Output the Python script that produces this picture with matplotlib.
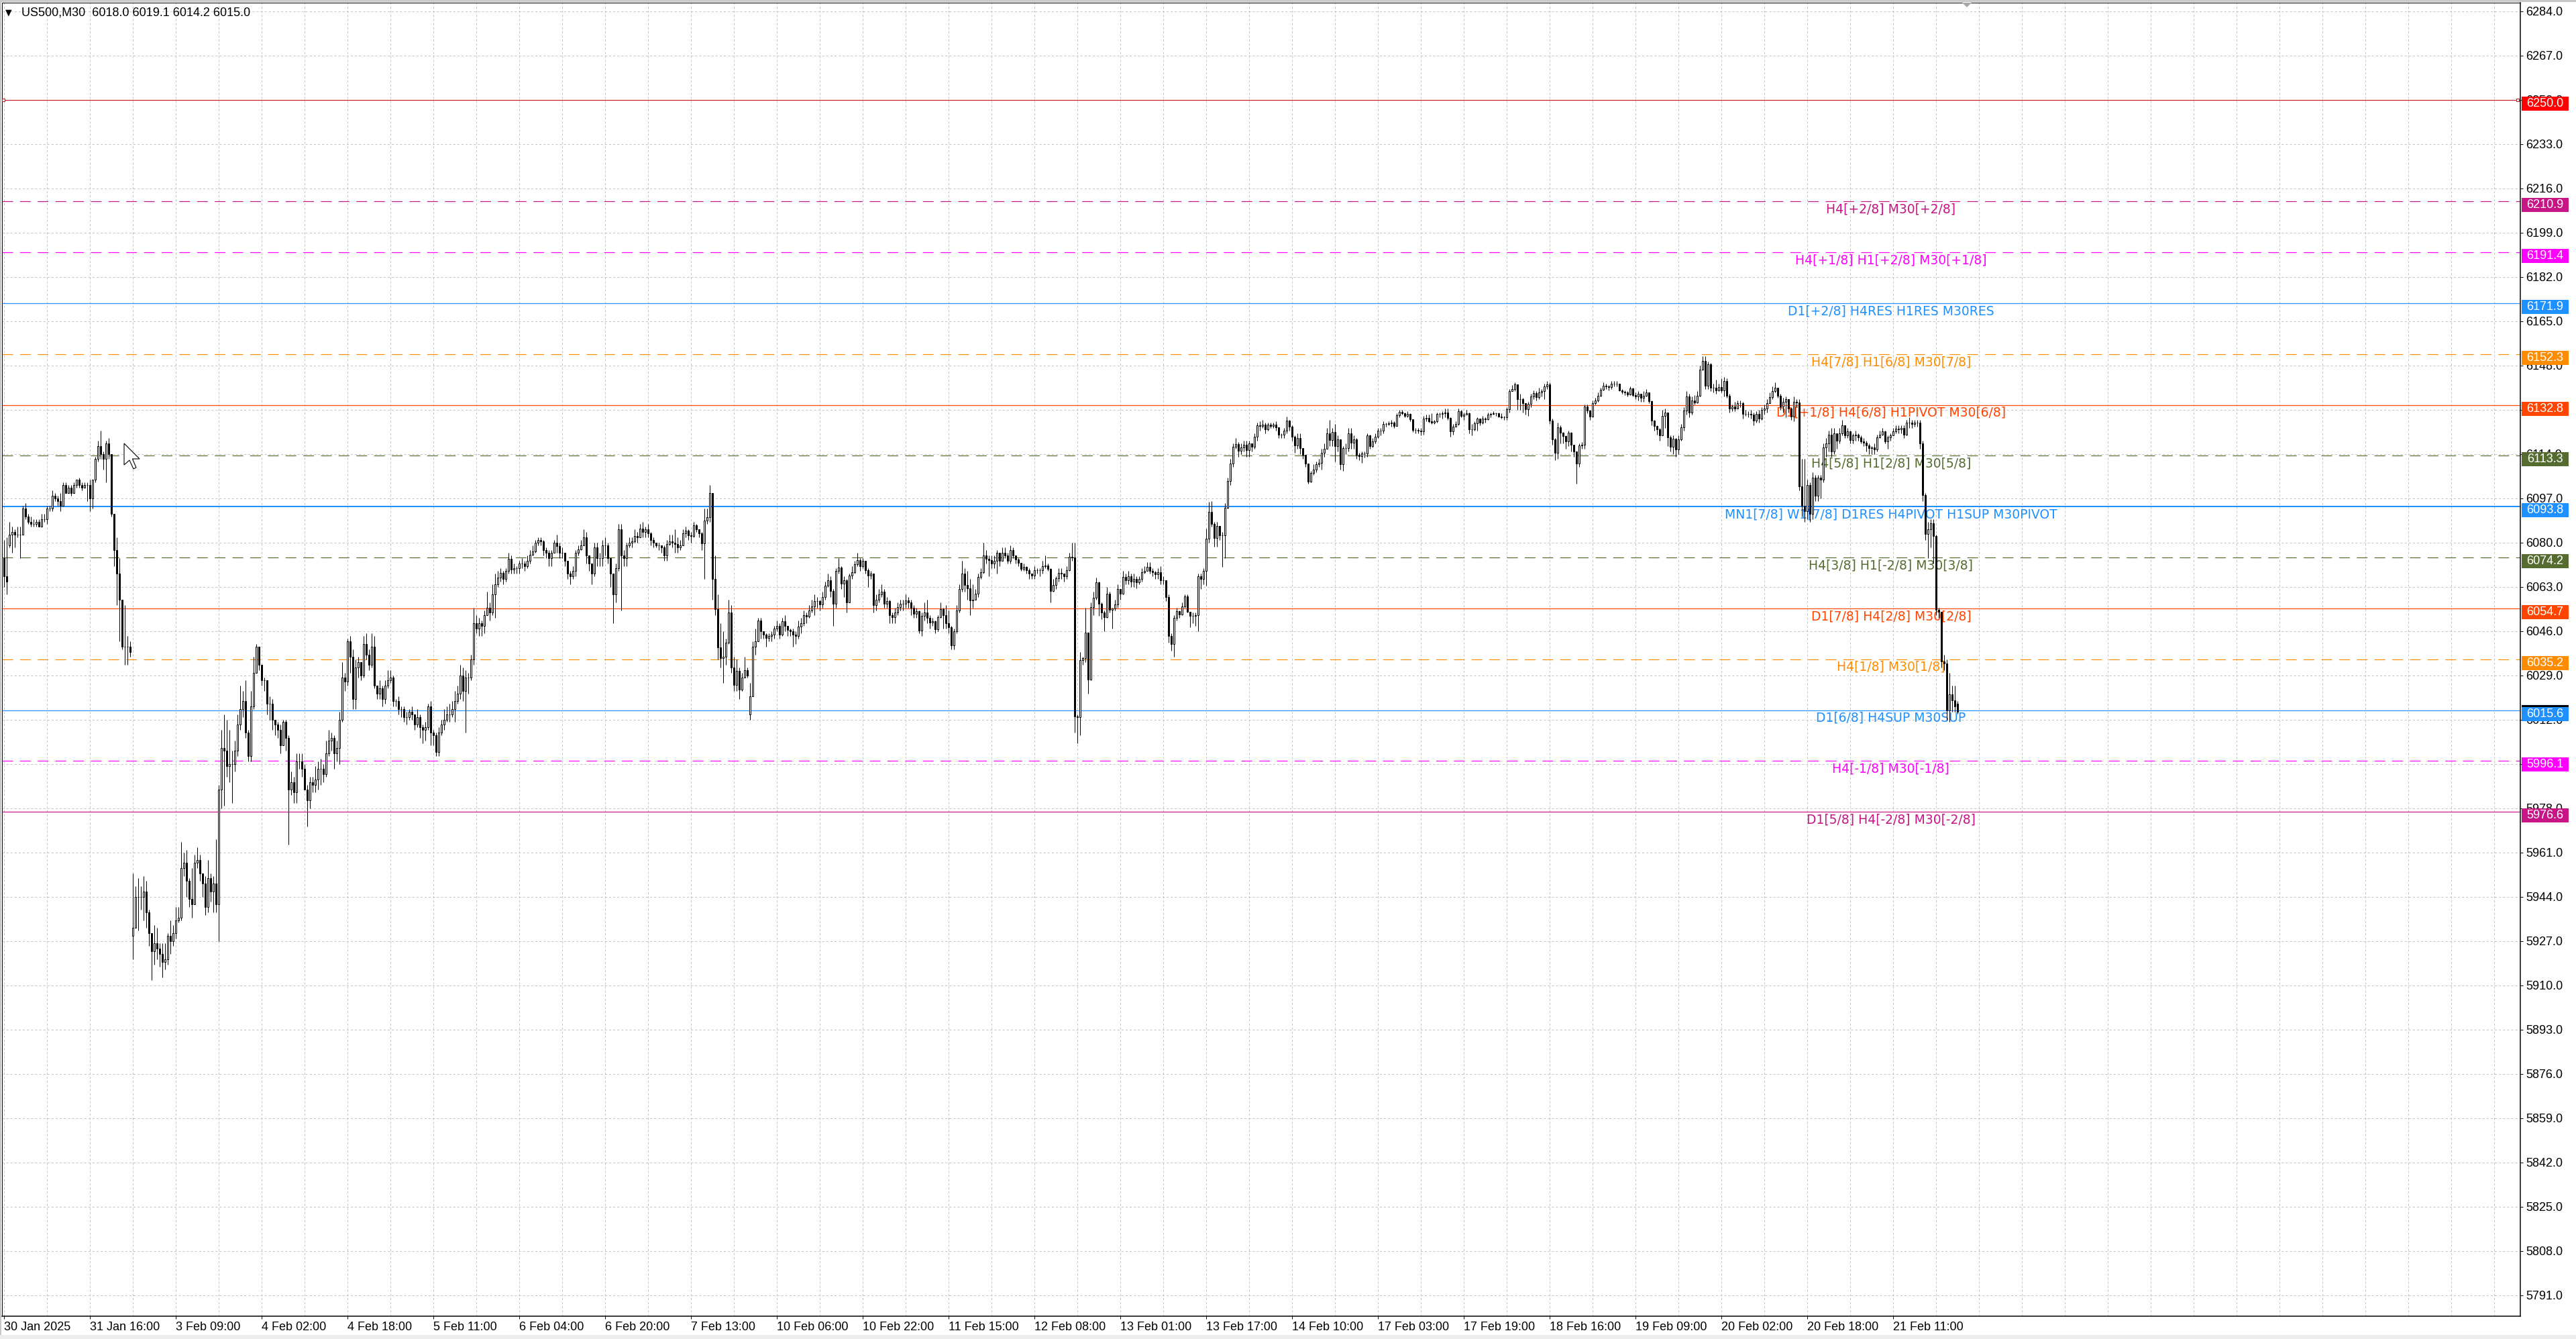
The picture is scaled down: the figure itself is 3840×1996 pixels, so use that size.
import matplotlib
matplotlib.use("Agg")
import matplotlib.pyplot as plt
from matplotlib.patches import Rectangle, Polygon
import numpy as np

plt.rcParams['lines.scale_dashes'] = False

# ---------------- data ----------------
SYMBOL_TEXT = "US500,M30  6018.0 6019.1 6014.2 6015.0"

CLOSE = [
6067, 6065, 6083, 6084, 6083, 6083, 6083, 6093, 6090, 6088,
6087, 6087, 6088, 6086, 6089, 6089, 6093, 6093, 6098, 6097,
6096, 6094, 6102, 6099, 6101, 6099, 6102, 6104, 6102, 6101,
6102, 6102, 6097, 6104, 6112, 6117, 6114, 6112, 6118, 6114,
6091, 6077, 6068, 6058, 6040, 6040, 6040, 6038,
5932, 5944, 5944, 5944, 5946, 5938, 5930, 5923, 5926, 5924,
5922, 5919, 5920, 5929, 5927, 5930, 5935, 5936, 5955, 5957,
5950, 5943, 5941, 5957, 5958, 5953, 5949, 5940, 5951, 5946,
5949, 5941, 5985, 6001, 6000, 5994, 5995, 5995, 6000, 6010,
6016, 6019, 6007, 5998, 6017, 6030, 6040, 6033, 6027, 6027,
6018, 6018, 6012, 6010, 6008, 6002, 6011, 6005, 5985, 5988,
5984, 5996, 5996, 5993, 5985, 5981, 5988, 5987, 5989, 5993,
5993, 5991, 5999, 6004, 6005, 5999,
6001, 6012, 6028, 6026.5, 6042, 6036, 6020, 6032, 6034, 6029,
6041, 6037, 6033, 6040, 6025, 6022, 6024, 6020, 6025, 6027,
6028, 6019, 6019, 6016, 6016, 6013, 6013, 6015, 6014, 6010,
6013, 6009, 6008, 6009, 6017, 6007, 6006, 5999.5, 6007, 6010,
6012, 6014, 6014, 6016, 6019, 6022, 6029, 6023, 6028, 6028,
6035, 6049, 6047, 6049, 6048, 6052, 6055, 6053, 6060, 6064,
6066.4, 6068.4, 6066, 6069, 6073.6, 6069.6, 6070, 6070, 6072, 6072,
6071, 6073, 6075.3, 6076.5, 6080, 6081, 6080.5, 6077, 6076, 6074,
6076, 6080, 6078.5, 6076, 6076, 6073, 6068, 6067, 6069, 6076,
6077.4, 6079, 6082, 6075, 6072, 6068, 6078, 6074, 6074, 6079,
6079, 6074, 6068, 6060, 6070, 6085, 6075, 6074, 6079, 6080,
6080.3, 6082.5, 6082, 6085.4, 6084, 6085, 6083.4, 6081, 6080, 6079,
6079, 6078, 6075,
6079.3, 6080.3, 6080, 6079.5, 6078, 6079, 6083.4, 6084.6, 6082.7, 6082.5,
6086.6, 6085, 6083.4, 6079.7, 6088.3, 6089.8, 6099, 6066, 6054.4, 6039.8,
6035.5, 6036, 6041.5, 6053, 6032, 6025.4, 6030.8, 6023.5, 6028, 6031,
6029, 6021, 6040, 6042, 6050, 6045.8, 6044.5, 6043.2, 6044, 6044.5,
6047, 6048, 6044.5, 6049.7, 6048, 6046.5, 6046, 6044.5, 6044, 6047.6,
6049, 6052, 6051.5, 6054, 6055.4, 6057.6, 6057.6, 6056.3, 6059, 6063.4,
6065.5, 6061.3, 6056.5, 6069.2, 6070.3, 6064.3, 6065.5, 6057.1, 6067.3, 6068.5,
6071.6, 6073.3, 6070.9, 6073, 6069.4, 6067.3, 6068, 6056, 6058, 6060,
6061.2, 6056.5, 6057.4, 6052.2, 6051.2, 6053, 6055.2, 6056.5, 6056.5, 6057.8,
6057, 6055, 6052.7, 6053.5, 6046.2, 6051.8, 6053, 6051, 6049.2, 6049.7,
6046.6, 6051.4, 6054.4, 6052, 6049, 6047.5, 6040.6, 6045.8, 6054, 6062.1,
6068, 6063.8, 6062.5, 6057.8, 6058, 6060.4, 6066.8, 6068.5, 6075, 6073.7,
6073.3, 6072,
6073, 6076, 6073, 6076, 6075, 6073, 6077, 6075, 6073.5, 6072.3,
6069.9, 6070.7, 6069.4, 6068, 6067.3, 6069.4, 6069.4, 6069.4, 6070.9, 6071.1,
6069.9, 6061.4, 6063.8, 6066.2, 6068.3, 6068, 6067, 6069.4, 6074.6, 6074.3,
6013.2, 6012.8, 6034.8, 6035.7, 6045.4, 6027.4, 6055.1, 6058.9, 6064.7, 6056.5,
6053.1, 6051.4, 6060.2, 6054.2, 6054.6, 6056.3, 6062, 6060.2, 6066.8, 6065.6,
6067.1, 6064.9, 6066, 6064.7, 6066, 6068.6, 6069.2, 6070.7, 6069, 6068.6,
6067.7, 6068.6, 6065.6, 6065.6, 6059.1, 6044.1, 6041.1, 6051, 6053.5, 6052.3,
6055.4, 6059.4, 6053.4, 6051.8, 6051.8, 6052, 6066.9, 6066, 6069, 6081.5,
6091.8, 6087, 6081.7, 6086.3, 6082.7, 6082.7, 6093.2, 6103.5, 6110.2, 6116.7,
6117.7, 6115.2, 6116.4, 6117.5, 6115.4, 6118, 6116.7, 6120.5, 6125.1, 6124.8,
6125.2, 6123.5, 6125.2, 6124.8, 6125.2, 6124.1, 6121.4, 6121.4, 6122.9, 6126.7,
6124.4, 6120.5, 6117.3, 6120.1, 6116.2, 6113.6, 6110.4, 6103.3, 6106.8, 6108,
6110, 6110.6, 6114.5,
6116, 6121.8, 6119.2, 6122.4, 6116.9, 6119.6, 6110, 6116.2, 6116.2, 6122,
6118.4, 6119.5, 6113.6, 6113.2, 6114.2, 6114.2, 6121, 6117, 6118.8, 6120.5,
6122.9, 6122.9, 6125.5, 6125.5, 6125.8, 6126, 6124.6, 6128.8, 6130.1, 6129.7,
6128.7, 6129.3, 6127.2, 6123.3, 6123.3, 6123, 6122.6, 6127.5, 6127.8, 6126.5,
6126.1, 6126.5, 6129.3, 6129.3, 6129.5, 6130, 6127.8, 6122.7, 6124.4, 6125.5,
6130.4, 6128.7, 6129.1, 6129.5, 6123.5, 6123.5, 6125.7, 6127.5, 6126.1, 6127.5,
6127.2, 6129.1, 6129.3, 6129.5, 6129.5, 6128.4, 6128.1, 6128, 6131.2, 6138.1,
6139, 6140.7, 6135.1, 6135.1, 6133.6, 6131.2, 6133.2, 6136.1, 6137.3, 6135.9,
6137.5, 6138.1, 6139.8, 6140.7, 6126.7, 6119.7, 6114.3, 6124.1, 6122.2, 6120.9,
6118.8, 6122.2, 6117.5, 6114.9, 6110.4, 6117.2, 6117.5, 6132.1, 6130.6, 6128.4,
6133.6, 6134.4, 6136.4, 6138.7, 6140.1, 6139.8, 6139.6, 6141, 6141, 6141,
6138.5, 6137.9, 6137.5, 6136.8, 6139.2, 6136.7, 6136.1, 6137, 6135.5, 6136.4,
6137.7, 6134.2,
6126.7, 6124.6, 6123.5, 6121.2, 6128.7, 6129.8, 6120.4, 6116.7, 6119.9, 6115.6,
6119.6, 6124.3, 6130.6, 6136.1, 6129.8, 6134.6, 6133.8, 6136.2, 6146.4, 6149.6,
6140.1, 6148.3, 6139.3, 6139.3, 6138.5, 6139.7, 6138.5, 6142, 6136.2, 6131.4,
6132.2, 6131.4, 6133.5, 6133.5, 6129.4, 6129.4, 6129.4, 6129, 6126.7, 6129.4,
6127.5, 6131, 6131.4, 6133.5, 6135.7, 6138.2, 6139.3, 6136.2, 6132.2, 6134.1,
6135, 6131.4, 6128.3, 6134, 6133.8, 6101.5, 6094, 6092, 6102, 6091,
6105, 6098, 6105, 6104, 6116.4, 6118, 6121.5, 6114.9, 6122, 6119,
6122, 6125, 6121.2, 6122.7, 6119.3, 6121.2, 6121.4, 6120.4, 6118.8, 6118.3,
6117.2, 6116.1, 6116.4, 6115.6, 6120.4, 6121.4, 6122.7, 6118.8, 6120.4, 6121.2,
6122.7, 6123.8, 6123.5, 6124, 6121.5, 6125.9, 6125.9, 6125.5, 6125.9, 6125.9,
6118, 6098.3, 6083.3, 6085, 6087.3, 6082.5, 6054.1, 6053.3, 6034.4, 6033.6,
6015.5, 6021.8, 6019.4, 6017, 6015.0,
]

HIGH = [
6081, 6082, 6088, 6086, 6085, 6086, 6086, 6094, 6095, 6091,
6090, 6089, 6089, 6089, 6091, 6091, 6094, 6094, 6100, 6099,
6098, 6099, 6103, 6103, 6102, 6102, 6103, 6104, 6105, 6103,
6103, 6103, 6104, 6104, 6113, 6119, 6123, 6115, 6119, 6120,
6114, 6091, 6082, 6074, 6058, 6056, 6044, 6042,
5953, 5948, 5951, 5948, 5952, 5950, 5939, 5930, 5933, 5932,
5926, 5926, 5926, 5930, 5935, 5933, 5940, 5940, 5965, 5961,
5962, 5951, 5955, 5960, 5963, 5960, 5952, 5952, 5958, 5953,
5952, 5966, 5987, 6008, 6014, 6012, 6008, 6000, 6004, 6014,
6025, 6023, 6027, 6008, 6023, 6036, 6041, 6040, 6033, 6028,
6027, 6021, 6020, 6012, 6011, 6010, 6012, 6012, 6006, 5992,
5990, 5999, 5999, 5999, 5995, 5987, 5990, 5990, 5994, 5996,
5997, 5995, 6004, 6008, 6007, 6006,
6004, 6015, 6034, 6030, 6043, 6044, 6039, 6035, 6036, 6034,
6044, 6045, 6039, 6045, 6044, 6025, 6027, 6025, 6027, 6031,
6031, 6029, 6020, 6021, 6017, 6017, 6015, 6016, 6017, 6014,
6016, 6014, 6010, 6011, 6018, 6019, 6008, 6007, 6009, 6012,
6016, 6017, 6018, 6019, 6023, 6025, 6033, 6032, 6031, 6030,
6037, 6055, 6052, 6051, 6050, 6054, 6061, 6057, 6064, 6068,
6069, 6070, 6069, 6070, 6076, 6075, 6072, 6071, 6073, 6074,
6073, 6075, 6077, 6079, 6081, 6082, 6082, 6081, 6078, 6077,
6077, 6081, 6083, 6080, 6078, 6076, 6073, 6069, 6071, 6077,
6079, 6081, 6085, 6084, 6075, 6072, 6080, 6080, 6076, 6081,
6082, 6080, 6072, 6068, 6072, 6087, 6087, 6077, 6080, 6082,
6082, 6085, 6084, 6087, 6088, 6086, 6087, 6084, 6082, 6080,
6080, 6079, 6079,
6081, 6083, 6083, 6085, 6082, 6081, 6085, 6086, 6085, 6084,
6088, 6087, 6085, 6084, 6093, 6093, 6102, 6090, 6075, 6060,
6049, 6046, 6043, 6058, 6056, 6036, 6035, 6032, 6030, 6036,
6032, 6026, 6042, 6047, 6051, 6051, 6046, 6045, 6045, 6046,
6048, 6050, 6049, 6051, 6052, 6048, 6047, 6047, 6046, 6050,
6051, 6054, 6053, 6056, 6058, 6060, 6059, 6058, 6061, 6065,
6068, 6067, 6062, 6070, 6074, 6071, 6067, 6066, 6068, 6071,
6073, 6076, 6074, 6074, 6072, 6070, 6069, 6065, 6060, 6062,
6064, 6062, 6059, 6058, 6053, 6055, 6057, 6058, 6058, 6060,
6059, 6058, 6056, 6055, 6054, 6053, 6057, 6058, 6052, 6051,
6050, 6052, 6057, 6055, 6056, 6054, 6048, 6047, 6056, 6064,
6073, 6070, 6069, 6066, 6064, 6062, 6068, 6070, 6080, 6077,
6075, 6075,
6075, 6077, 6076, 6078, 6078, 6076, 6079, 6078, 6075, 6074,
6072, 6072, 6071, 6070, 6068, 6071, 6070, 6070, 6073, 6075,
6072, 6070, 6066, 6067, 6070, 6070, 6068, 6071, 6076, 6080,
6080, 6014, 6038, 6036, 6055, 6045, 6057, 6061, 6066.4, 6065,
6057, 6054, 6063, 6061, 6055, 6058, 6064, 6062, 6069, 6068,
6069, 6068, 6068, 6067, 6067, 6070, 6071, 6072.4, 6072.5, 6070,
6069, 6070, 6071, 6067, 6064, 6060, 6045, 6052, 6055, 6054,
6057, 6060, 6060, 6053, 6053, 6053, 6068, 6068, 6070, 6085.3,
6095.6, 6095.8, 6088, 6088, 6086, 6084, 6095, 6105, 6112, 6118,
6120, 6118.5, 6118, 6119, 6119, 6119, 6118, 6122, 6126, 6126.5,
6127, 6126, 6126, 6126, 6126, 6126.5, 6124, 6122, 6124, 6128.4,
6127, 6125, 6121, 6122, 6122, 6116, 6113, 6110, 6107.5, 6110,
6111, 6112, 6116,
6118, 6124, 6127, 6124, 6125.5, 6121, 6119.6, 6117, 6118, 6124,
6124, 6121, 6120, 6114.5, 6115, 6115, 6122, 6121.5, 6120, 6122,
6124, 6124, 6126.5, 6126, 6126.5, 6127, 6126.5, 6129.5, 6131, 6131,
6130, 6130.5, 6129.5, 6127, 6124, 6124, 6124, 6128.5, 6129, 6129,
6129.5, 6127, 6130, 6130, 6130.5, 6131.5, 6131.5, 6128, 6125.5, 6126.5,
6131.5, 6131, 6130, 6131, 6130, 6125.5, 6126.5, 6128, 6127.5, 6128.5,
6128, 6130, 6130, 6130.5, 6130, 6130, 6129.5, 6128.5, 6132, 6139,
6140.5, 6141.5, 6140.5, 6137, 6135.5, 6133.5, 6134, 6137, 6138.5, 6138,
6139.5, 6139, 6141, 6142, 6141.5, 6127.5, 6120, 6126, 6125, 6122.5,
6121, 6123, 6122.5, 6117.5, 6115, 6118, 6118.5, 6133, 6133, 6131,
6134.5, 6135.5, 6137.5, 6139.5, 6141.5, 6141, 6140.5, 6142, 6142, 6142,
6141, 6139, 6138.5, 6138, 6140, 6139.5, 6137.5, 6138, 6136, 6138,
6139, 6137.5,
6134.5, 6127, 6125, 6124, 6131, 6131.5, 6130, 6121, 6121, 6120,
6121, 6125.5, 6132, 6138, 6137, 6136, 6136.5, 6138, 6148, 6151.5,
6151.5, 6149.5, 6149, 6141, 6142.5, 6141, 6143, 6143.5, 6143, 6137,
6133, 6134, 6134.5, 6134.5, 6134, 6131, 6130.5, 6131, 6130, 6130.5,
6131, 6132, 6133, 6135, 6137.5, 6140, 6141.5, 6139, 6137, 6135.5,
6136, 6135, 6132, 6136, 6135, 6135, 6112, 6112, 6104, 6103,
6107, 6106, 6106, 6106, 6118, 6120, 6123, 6124, 6124, 6122,
6124, 6127, 6125, 6124, 6123, 6122, 6123, 6122, 6121, 6120,
6119, 6118, 6117, 6118, 6121.5, 6123, 6124, 6123, 6121, 6122,
6124, 6125, 6125, 6125, 6125, 6127, 6128, 6127, 6127, 6127,
6127, 6119, 6099, 6088, 6089, 6089, 6083, 6055, 6052, 6037,
6035, 6030, 6025, 6025, 6019.1,
]

LOW = [
6063, 6060, 6078, 6076, 6078, 6082, 6074, 6083, 6089, 6087,
6086, 6086, 6086, 6086, 6087, 6088, 6087, 6092, 6092, 6096,
6094, 6092, 6094, 6099, 6099, 6098, 6099, 6101, 6101, 6100,
6101, 6096, 6092, 6093, 6103, 6111, 6112, 6108, 6103, 6112,
6090, 6071, 6056, 6042, 6039, 6033, 6033, 6036,
5920, 5932, 5931, 5939, 5935, 5932, 5925, 5912, 5918, 5920,
5917, 5913, 5916, 5918, 5922, 5925, 5928, 5934, 5935, 5952,
5944, 5940, 5936, 5944, 5955, 5950, 5944, 5937, 5938, 5942,
5938, 5938, 5927, 5978, 5979, 5990, 5988, 5980, 5992, 5998,
6008, 6013, 6005, 5996, 5996, 6016, 6030, 6031, 6025, 6023,
6014, 6012, 6008, 6006, 6005, 5999, 6002, 6000, 5964, 5983,
5980, 5980, 5993, 5990, 5985, 5971, 5978, 5984, 5984, 5985,
5987, 5988, 5990, 5998, 6000, 5993,
5996, 5995, 6011, 6023, 6025, 6030, 6016, 6016, 6028, 6027,
6028, 6035, 6031, 6032, 6024, 6020, 6020, 6017, 6018, 6024,
6026, 6017, 6017, 6014, 6013, 6011, 6010, 6012, 6012, 6008,
6009, 6005, 6003, 6004, 6008, 6002, 6002, 5998, 5998, 6006,
6008, 6011, 6011, 6013, 6011, 6018, 6020, 6019, 6007, 6022,
6027, 6033, 6045, 6044, 6044, 6045, 6052, 6050, 6052, 6051,
6063, 6065, 6064, 6065, 6068, 6068, 6068, 6068, 6068, 6070,
6069, 6070, 6072, 6075, 6076, 6079, 6079, 6075, 6074, 6071,
6071, 6076, 6076, 6074, 6074, 6071, 6066, 6064, 6066, 6067,
6075, 6077, 6079, 6072, 6069, 6064, 6067, 6071, 6071, 6071,
6075, 6072, 6063, 6049, 6057, 6069, 6054, 6071, 6071, 6078,
6078, 6080, 6080, 6082, 6082, 6082, 6082, 6079, 6078, 6078,
6077, 6076, 6073,
6073, 6079, 6078, 6076, 6076, 6077, 6079, 6082, 6081, 6080,
6082, 6084, 6082, 6077, 6066, 6087, 6088, 6058, 6052, 6035,
6032, 6026, 6033, 6041, 6030, 6023, 6023, 6020, 6023, 6028,
6028, 6012, 6021, 6037, 6042, 6043, 6043, 6040, 6042, 6042,
6043, 6046, 6043, 6044, 6046, 6044, 6044, 6040, 6041, 6043,
6045, 6048, 6049, 6051, 6053, 6052, 6055, 6054, 6055, 6058,
6063, 6059, 6048, 6055, 6068, 6062, 6059, 6053, 6057, 6066,
6068, 6071, 6069, 6070, 6068, 6063, 6066, 6053, 6054, 6057,
6059, 6055, 6055, 6049, 6049, 6049, 6052, 6054, 6054, 6055,
6055, 6052, 6051, 6051, 6045, 6044, 6050, 6049, 6047, 6048,
6045, 6046, 6051, 6047, 6047, 6045, 6039, 6039, 6045, 6053,
6061, 6061, 6058, 6052, 6055, 6058, 6059, 6066, 6068, 6072,
6067, 6070,
6070, 6068, 6071, 6073, 6074, 6072, 6072, 6074, 6072, 6071,
6069, 6069, 6068, 6066, 6066, 6066, 6068, 6067, 6068, 6070,
6069, 6057, 6061, 6062, 6065, 6066, 6065, 6066, 6069, 6073,
6007, 6003, 6006, 6033, 6034, 6022, 6027, 6052, 6058, 6051.8,
6050.5, 6046, 6051, 6053, 6047, 6054, 6055, 6058, 6060, 6064,
6064, 6063, 6063, 6062.5, 6064, 6065, 6068, 6069, 6068, 6067,
6066, 6066, 6064, 6064, 6057.4, 6041.5, 6038.5, 6036, 6050, 6051,
6052, 6055, 6053, 6047.5, 6049, 6048, 6046, 6062, 6064, 6063.4,
6080, 6086, 6078.4, 6078.4, 6081, 6070.7, 6074, 6093, 6102, 6109,
6116, 6113, 6114, 6115, 6113, 6113, 6115, 6116, 6119, 6123,
6124, 6122, 6123, 6124, 6124, 6123, 6120, 6120, 6120, 6122,
6123, 6119, 6114.5, 6116, 6114, 6112, 6109, 6102.5, 6103, 6106,
6107, 6109, 6108,
6113, 6116, 6117, 6117, 6111, 6115, 6108, 6107.5, 6114, 6115,
6116, 6116, 6112, 6111.5, 6110.5, 6112.5, 6113, 6116, 6116.5, 6118,
6120, 6121, 6122, 6124.5, 6125, 6124.5, 6124, 6125, 6128, 6129,
6128, 6128, 6126.5, 6122.5, 6122, 6122, 6121, 6121.5, 6126.5, 6126,
6125.5, 6125.5, 6126, 6128, 6127.5, 6128, 6127, 6120.5, 6121.5, 6124.5,
6125, 6128, 6127, 6129, 6122, 6121, 6123, 6123, 6125, 6125.5,
6126, 6127, 6128, 6129, 6128.5, 6128, 6127.5, 6127, 6127, 6130,
6138, 6138, 6131, 6131, 6130, 6129, 6128.5, 6132, 6135, 6134.5,
6135, 6136, 6135, 6139, 6125.5, 6117.5, 6111.5, 6112, 6118, 6118,
6116, 6117, 6115, 6113, 6102.5, 6109, 6116, 6116, 6129.5, 6127,
6130, 6133, 6134, 6136, 6138.5, 6139, 6138.5, 6139, 6140, 6140,
6138, 6137, 6136.5, 6136, 6136.5, 6136, 6135, 6134.5, 6134, 6134,
6136, 6133.5,
6125, 6123, 6121.5, 6119, 6123, 6124, 6117, 6115, 6114, 6113,
6114, 6119, 6123, 6129, 6128, 6129, 6133, 6133.5, 6136, 6146,
6139, 6139, 6138, 6137.5, 6137, 6138, 6137.5, 6136, 6135.5, 6130,
6130.5, 6130.5, 6132, 6132, 6127.5, 6128.5, 6128, 6127.5, 6125, 6126,
6126, 6127, 6129, 6130, 6133.5, 6135, 6137.5, 6135.5, 6131, 6130,
6128, 6130, 6127, 6126.5, 6132, 6100, 6090, 6088, 6089, 6088,
6089, 6096, 6096, 6097, 6103, 6113, 6115, 6113, 6114, 6116,
6118, 6121, 6120, 6120, 6118, 6118, 6119, 6119, 6118, 6117,
6115, 6114, 6114, 6114, 6115, 6120, 6121, 6118, 6116, 6119,
6121, 6122, 6122, 6122, 6120, 6121, 6124, 6124, 6124.5, 6124.5,
6116, 6096, 6081, 6074, 6078, 6072, 6052, 6051, 6032, 6031,
6012, 6011, 6015, 6015, 6014.2,
]

# bars whose open differs from the previous close (session gaps)
GAP_OPENS = {0: 6074, 2: 6079, 48: 5929, 278: 6014, 728: 6018.0}

# x-axis labels every 32 bars
XLABELS = ["30 Jan 2025", "31 Jan 16:00", "3 Feb 09:00", "4 Feb 02:00", "4 Feb 18:00",
           "5 Feb 11:00", "6 Feb 04:00", "6 Feb 20:00", "7 Feb 13:00", "10 Feb 06:00",
           "10 Feb 22:00", "11 Feb 15:00", "12 Feb 08:00", "13 Feb 01:00", "13 Feb 17:00",
           "14 Feb 10:00", "17 Feb 03:00", "17 Feb 19:00", "18 Feb 16:00", "19 Feb 09:00",
           "20 Feb 02:00", "20 Feb 18:00", "21 Feb 11:00"]
XLABEL_STEP = 32
YTICK_TOP, YTICK_STEP, YTICK_COUNT = 6284.0, 17.0, 30

# price levels: value, text label, colour, style
LEVEL_PRICES = [6250.0, 6210.9, 6191.4, 6171.9, 6152.3, 6132.8, 6113.3, 6093.8,
                6074.2, 6054.7, 6035.2, 6015.6, 5996.1, 5976.6]
LEVEL_TEXTS = ["", "H4[+2/8] M30[+2/8]", "H4[+1/8] H1[+2/8] M30[+1/8]",
               "D1[+2/8] H4RES H1RES M30RES", "H4[7/8] H1[6/8] M30[7/8]",
               "D1[+1/8] H4[6/8] H1PIVOT M30[6/8]", "H4[5/8] H1[2/8] M30[5/8]",
               "MN1[7/8] W1[7/8] D1RES H4PIVOT H1SUP M30PIVOT", "H4[3/8] H1[-2/8] M30[3/8]",
               "D1[7/8] H4[2/8] M30[2/8]", "H4[1/8] M30[1/8]", "D1[6/8] H4SUP M30SUP",
               "H4[-1/8] M30[-1/8]", "D1[5/8] H4[-2/8] M30[-2/8]"]
LEVEL_COLORS = ["#ff0000", "#c71585", "#ff00ff", "#1e90ff", "#ff8c00", "#ff4500", "#556b2f",
                "#1e90ff", "#556b2f", "#ff4500", "#ff8c00", "#1e90ff", "#ff00ff", "#c71585"]
LEVEL_DASHED = [False, True, True, False, True, False, True, False, True, False, True, False, True, False]

# ---------------- layout ----------------
W, H, DPI = 3840, 1996, 100
fig = plt.figure(figsize=(W / DPI, H / DPI), dpi=DPI)
fig.patch.set_facecolor("white")

AX_L, AX_R, AX_T, AX_B = 3, 3757, 4, 1962
ax = fig.add_axes([AX_L / W, (H - AX_B) / H, (AX_R - AX_L) / W, (AX_B - AX_T) / H])
ax.set_facecolor("white")

BAR0_PX, BAR_PX = 5.7, 4.0
PX_PER_UNIT, PRICE_AT_TOP0 = 3.882, 6288.3
xmin = (AX_L - BAR0_PX) / BAR_PX
xmax = (AX_R - BAR0_PX) / BAR_PX
ymax = PRICE_AT_TOP0 - AX_T / PX_PER_UNIT
ymin = PRICE_AT_TOP0 - AX_B / PX_PER_UNIT
ax.set_xlim(xmin, xmax)
ax.set_ylim(ymin, ymax)

def y_px(price):
    return AX_T + (ymax - price) / (ymax - ymin) * (AX_B - AX_T)

PX = 0.72  # 1 pixel in points

# grid
GRID_KW = dict(color="#c3c3c3", lw=PX, ls=(0, (2.2, 2.2)), zorder=1)
yt = [YTICK_TOP - k * YTICK_STEP for k in range(YTICK_COUNT)]
for v in yt:
    ax.axhline(v, **GRID_KW)
for gx in range(0, int(xmax) + 1, XLABEL_STEP // 2):
    ax.axvline(gx, **GRID_KW)

# level lines + labels
for p, t, c, d in zip(LEVEL_PRICES, LEVEL_TEXTS, LEVEL_COLORS, LEVEL_DASHED):
    lw = 2.0 * PX if abs(p - 6093.8) < 0.01 else 1.2 * PX
    lc = "#c82020" if p == 6250.0 else c
    ax.axhline(p, color=lc, lw=lw, ls=(0, (11.5, 7.5)) if d else "-", zorder=2)
    if t:
        ax.annotate(t, xy=(703.3, p), xytext=(0, -1.6), textcoords="offset points",
                    ha="center", va="top", color=c, fontsize=13.5, family="DejaVu Sans",
                    zorder=3)
ax.plot([-0.2, 936.8], [6250.0, 6250.0], ls="none", marker="s", ms=3.2,
        mfc="white", mec="#c82020", mew=0.8, zorder=3, clip_on=False)

# candles
n = min(len(CLOSE), len(HIGH), len(LOW))
closes = np.array(CLOSE[:n], dtype=float)
highs = np.array(HIGH[:n], dtype=float)
lows = np.array(LOW[:n], dtype=float)
opens = np.empty(n)
opens[1:] = closes[:-1]
opens[0] = closes[0]
for k, v in GAP_OPENS.items():
    if k < n:
        opens[k] = v
xs = np.arange(n)
hi = np.maximum(highs, np.maximum(opens, closes))
lo = np.minimum(lows, np.minimum(opens, closes))
ax.vlines(xs, lo, hi, color="black", lw=1.0 * PX, zorder=4)
bull = closes >= opens
ax.bar(xs[bull], closes[bull] - opens[bull], bottom=opens[bull], width=0.5,
       facecolor="white", edgecolor="black", linewidth=1.0 * PX, zorder=5)
ax.bar(xs[~bull], closes[~bull] - opens[~bull], bottom=opens[~bull], width=0.5,
       facecolor="black", edgecolor="black", linewidth=1.0 * PX, zorder=5)

# axes / ticks
for s in ("left", "top"):
    ax.spines[s].set_linewidth(1.0 * PX)
for s in ("right", "bottom"):
    ax.spines[s].set_linewidth(1.5 * PX)
for s in ax.spines.values():
    s.set_color("black")

ax.yaxis.tick_right()
ax.set_yticks(yt)
ax.set_yticklabels(["%.1f" % v for v in yt])
xt = [k * XLABEL_STEP for k in range(len(XLABELS))]
ax.set_xticks(xt)
ax.set_xticklabels(XLABELS)
for lab in ax.get_xticklabels():
    lab.set_horizontalalignment("left")
ax.tick_params(axis="both", length=4 * PX, width=PX, color="black", pad=3.2,
               labelsize=13, labelcolor="black")
for lab in ax.get_xticklabels() + ax.get_yticklabels():
    lab.set_family("Liberation Sans")

# price boxes on the right scale
for p, c in zip(LEVEL_PRICES, LEVEL_COLORS):
    yp = y_px(p)
    fig.add_artist(Rectangle((3758.5 / W, 1 - (yp + 16) / H), 70.5 / W, 21 / H,
                             transform=fig.transFigure, facecolor=c, edgecolor="none", zorder=5))
    fig.text(3794 / W, 1 - (yp + 5.5) / H, "%.1f" % p, ha="center", va="center",
             color="white", fontsize=13, family="Liberation Sans", zorder=6)
yb = y_px(6015.6)
fig.add_artist(Rectangle((3758.5 / W, 1 - (yb - 5) / H), 70.5 / W, 3 / H,
                         transform=fig.transFigure, facecolor="black", edgecolor="none", zorder=5))

# header
fig.text(8 / W, 1 - 19 / H, "\u25BC", ha="left", va="center", fontsize=9,
         family="DejaVu Sans", color="black", zorder=6)
fig.text(32 / W, 1 - 19 / H, SYMBOL_TEXT, ha="left", va="center", fontsize=13,
         family="Liberation Sans", color="black", zorder=6)

# window frame strips
fig.add_artist(Rectangle((0, 1 - 3 / H), 1, 3 / H, transform=fig.transFigure,
                         facecolor="#c8c8c8", edgecolor="none", zorder=7))
fig.add_artist(Rectangle((0, 0), 2 / W, 1, transform=fig.transFigure,
                         facecolor="#c8c8c8", edgecolor="none", zorder=7))
fig.add_artist(Rectangle((0, 0), 1, 6 / H, transform=fig.transFigure,
                         facecolor="#ececec", edgecolor="none", zorder=7))

# chart shift marker at top
tri = [(2925, 4), (2939, 4), (2932, 11)]
fig.add_artist(Polygon([(x / W, 1 - y / H) for x, y in tri], closed=True,
                       transform=fig.transFigure, facecolor="#a8a8a8", edgecolor="none", zorder=7))

# mouse cursor
tip = (185, 661)
shape = [(0, 0), (0, 16), (4, 12.5), (7, 19), (9, 18), (6.2, 11.5), (11.5, 11.5)]
fig.add_artist(Polygon([((tip[0] + 2 * sx) / W, 1 - (tip[1] + 2 * sy) / H) for sx, sy in shape],
                       closed=True, transform=fig.transFigure, facecolor="white",
                       edgecolor="black", lw=0.8, zorder=8))

fig.savefig("out.png", dpi=DPI, facecolor=fig.get_facecolor())
